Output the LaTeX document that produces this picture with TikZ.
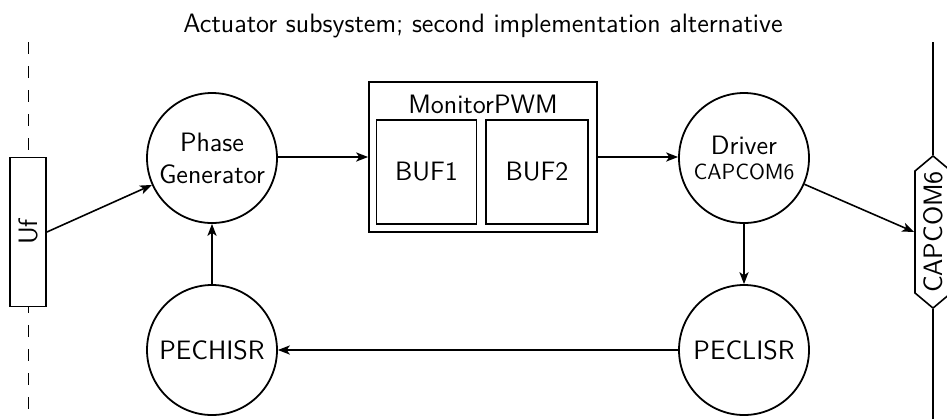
\documentclass[tikz,border=0pt]{standalone}
\usetikzlibrary{arrows.meta,shapes.symbols}
\begin{document}
\begin{tikzpicture}[x=0.5pt,y=-0.5pt,
  every node/.style={font=\sffamily\fontsize{13.3}{16}\selectfont},
  line/.style={line width=0.8pt},
  arr/.style={line width=0.8pt,-{Stealth[length=6pt,width=4.6pt,inset=1.6pt]}},
  circ/.style={draw,circle,line width=0.9pt,minimum size=65pt,inner sep=0pt,align=center},
  box/.style={draw,line width=0.9pt,inner sep=0pt,fill=white}]
\useasboundingbox (0,0) rectangle (947,419);

% title
\node (title) at (483,26) {Actuator subsystem; second implementation alternative};

% left boundary with the input Uf
\node[box,rotate=90,minimum width=74.5pt,minimum height=18pt] (uf) at (28,232) {Uf};
\coordinate (ltop) at (28,42);
\coordinate (lbot) at (28,419);
\draw[line width=0.5pt,dash pattern=on 6pt off 6pt] (ltop) -- (uf.east);
\draw[line width=0.5pt,dash pattern=on 6pt off 6pt,dash phase=3pt] (uf.west) -- (lbot);

% right boundary with the CAPCOM6 port
\node[draw,fill=white,shape=signal,signal to=east and west,signal pointer angle=100,
      rotate=90,minimum width=74.5pt,minimum height=18pt,inner sep=0pt,line width=0.8pt] (cap) at (933,232) {CAPCOM6};
\coordinate (rtop) at (933,42);
\coordinate (rbot) at (933,419);
\draw[line] (rtop) -- (cap.east);
\draw[line] (cap.west) -- (rbot);

% processes
\node[circ] (pg) at (212,158) {Phase\\Generator};
\node[circ] (hisr) at (212,350) {PECHISR};
\node[circ] (drv) at (744,158) {Driver\\[-3.5pt]{\fontsize{11}{13}\selectfont CAPCOM6}};
\node[circ] (lisr) at (744,350) {PECLISR};

% MonitorPWM with its two buffers
\node[box,minimum width=114pt,minimum height=75pt] (mon) at (483,157) {};
\node (monlbl) at (483,104) {MonitorPWM};
\node[box,minimum width=50pt,minimum height=52pt] (buf1) at (426.5,172) {BUF1};
\node[box,minimum width=51pt,minimum height=52pt] (buf2) at (537,172) {BUF2};

% data flow
\draw[arr] (uf.south) -- (pg);
\draw[arr] (hisr) -- (pg);
\draw[arr] (pg.east |- mon.west) -- (mon.west);
\draw[arr] (mon.east) -- (drv.west |- mon.east);
\draw[arr] (drv) -- (lisr);
\draw[arr] (lisr) -- (hisr);
\draw[arr] (drv) -- (cap.north);
\end{tikzpicture}
\end{document}
